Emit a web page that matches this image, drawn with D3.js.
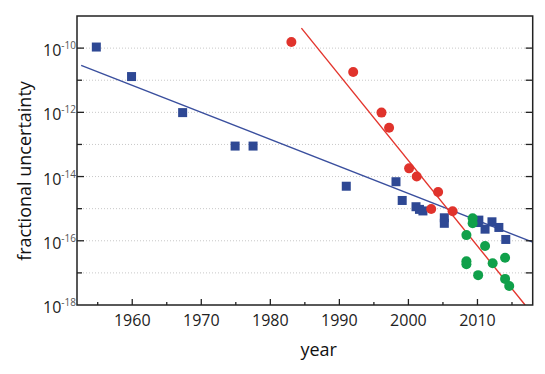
<!DOCTYPE html>
<html lang="en">
<head>
<meta charset="utf-8">
<title>fractional uncertainty</title>
<style>
  body { margin: 0; background: #fff; }
  text { font-family: "Open Sans", sans-serif; }
</style>
</head>
<body>
<svg width="545" height="374"></svg>
<script src="https://d3js.org/d3.v7.min.js"></script>
<script>

// data
var blueYears  = [1954.8, 1959.9, 1967.3, 1974.9, 1977.5, 1991.0, 1998.2, 1999.1, 2001.1, 2001.6, 2002.1, 2005.2, 2005.2, 2010.1, 2010.2, 2011.1, 2012.1, 2013.1, 2014.1];
var blueValues = [1.08e-10, 1.3e-11, 9.8e-13, 8.9e-14, 8.9e-14, 5.0e-15, 6.9e-15, 1.8e-15, 1.15e-15, 9.5e-16, 8.5e-16, 5.2e-16, 3.5e-16, 3.7e-16, 4.4e-16, 2.3e-16, 3.9e-16, 2.6e-16, 1.1e-16];

var redYears  = [1983.05, 1992.0, 1996.1, 1997.2, 2000.1, 2001.2, 2004.3, 2003.3, 2006.4];
var redValues = [1.55e-10, 1.8e-11, 9.8e-13, 3.3e-13, 1.8e-14, 1.0e-14, 3.3e-15, 9.8e-16, 8.3e-16];

var greenYears  = [2009.3, 2009.3, 2008.4, 2011.1, 2008.4, 2008.4, 2012.2, 2014.0, 2010.1, 2014.0, 2014.6];
var greenValues = [5.0e-16, 3.5e-16, 1.5e-16, 6.9e-17, 2.3e-17, 1.85e-17, 2.0e-17, 2.95e-17, 8.5e-18, 6.5e-18, 3.9e-18];

// fitted trend lines (end points)
var blueFitYears  = [1952.6, 2018];
var blueFitValues = [2.88e-11, 9.1e-17];
var redFitYears   = [1984.5, 2016.9];
var redFitValues  = [4.2e-10, 1e-18];

var xTicks = [1960, 1970, 1980, 1990, 2000, 2010];
var xMinorTicks = [1955, 1965, 1975, 1985, 1995, 2005, 2015];
var yMajorExp = [-10, -12, -14, -16, -18];
var yAllExp = [-10, -11, -12, -13, -14, -15, -16, -17];

var svg = d3.select("svg"),
    x0 = 77, x1 = 532.7, y0 = 16, y1 = 305;

var x = d3.scaleLinear().domain([1952, 2018]).range([x0, x1]);
var y = d3.scaleLog().domain([1e-18, 1e-9]).range([y1, y0]);

// dotted grid
svg.append("g").selectAll("line")
    .data(yAllExp)
    .enter().append("line")
    .attr("x1", x0).attr("x2", x1)
    .attr("y1", function(d) { return y(Math.pow(10, d)); })
    .attr("y2", function(d) { return y(Math.pow(10, d)); })
    .attr("stroke", "#c8c8c8")
    .attr("stroke-width", 1)
    .attr("stroke-dasharray", "1,2");

// clip for trend lines
svg.append("clipPath").attr("id", "clip")
    .append("rect").attr("x", x0).attr("y", y0)
    .attr("width", x1 - x0).attr("height", y1 - y0);

var line = d3.line()
    .x(function(d) { return x(d[0]); })
    .y(function(d) { return y(d[1]); });

svg.append("path")
    .datum(d3.zip(blueFitYears, blueFitValues))
    .attr("d", line)
    .attr("clip-path", "url(#clip)")
    .attr("fill", "none")
    .attr("stroke", "#3a4f9e")
    .attr("stroke-width", 1.4);

svg.append("path")
    .datum(d3.zip(redFitYears, redFitValues))
    .attr("d", line)
    .attr("clip-path", "url(#clip)")
    .attr("fill", "none")
    .attr("stroke", "#e3352d")
    .attr("stroke-width", 1.4);

// blue squares
var sq = 9;
svg.append("g").selectAll("rect")
    .data(d3.zip(blueYears, blueValues))
    .enter().append("rect")
    .attr("x", function(d) { return x(d[0]) - sq / 2; })
    .attr("y", function(d) { return y(d[1]) - sq / 2; })
    .attr("width", sq).attr("height", sq)
    .attr("fill", "#2e4894");

// red circles
svg.append("g").selectAll("circle")
    .data(d3.zip(redYears, redValues))
    .enter().append("circle")
    .attr("cx", function(d) { return x(d[0]); })
    .attr("cy", function(d) { return y(d[1]); })
    .attr("r", 5)
    .attr("fill", "#e0332c");

// green circles
svg.append("g").selectAll("circle")
    .data(d3.zip(greenYears, greenValues))
    .enter().append("circle")
    .attr("cx", function(d) { return x(d[0]); })
    .attr("cy", function(d) { return y(d[1]); })
    .attr("r", 5)
    .attr("fill", "#10a04a");

// ticks
var ticks = svg.append("g").attr("stroke", "#222").attr("stroke-width", 1.3);
xTicks.forEach(function(t) {
    ticks.append("line").attr("x1", x(t)).attr("x2", x(t)).attr("y1", y1).attr("y2", y1 - 6);
});
xMinorTicks.forEach(function(t) {
    ticks.append("line").attr("x1", x(t)).attr("x2", x(t)).attr("y1", y1).attr("y2", y1 - 3);
});
yAllExp.forEach(function(e) {
    var yy = y(Math.pow(10, e));
    var len = (e % 2 === 0) ? 7 : 5;
    ticks.append("line").attr("x1", x0).attr("x2", x0 + len).attr("y1", yy).attr("y2", yy);
    ticks.append("line").attr("x1", x1).attr("x2", x1 - 7).attr("y1", yy).attr("y2", yy);
});

// frame
svg.append("rect")
    .attr("x", x0).attr("y", y0)
    .attr("width", x1 - x0).attr("height", y1 - y0)
    .attr("fill", "none")
    .attr("stroke", "#222")
    .attr("stroke-width", 1.5);

// x tick labels
svg.append("g").selectAll("text")
    .data(xTicks)
    .enter().append("text")
    .attr("x", function(d) { return x(d); })
    .attr("y", 326)
    .attr("text-anchor", "middle")
    .attr("font-size", 16)
    .attr("fill", "#222")
    .text(function(d) { return d; });

// y tick labels 10^n
var ylab = svg.append("g").selectAll("text")
    .data(yMajorExp)
    .enter().append("text")
    .attr("x", 43)
    .attr("y", function(d) { return y(Math.pow(10, d)) + 8; })
    .attr("font-size", 16)
    .attr("fill", "#222");
ylab.append("tspan").text("10");
ylab.append("tspan")
    .attr("dy", -7)
    .attr("font-size", 10)
    .attr("fill", "#555")
    .text(function(d) { return d; });

// axis titles
svg.append("text")
    .attr("x", x(1987)).attr("y", 356)
    .attr("text-anchor", "middle")
    .attr("font-size", 18)
    .attr("fill", "#111")
    .text("year");

svg.append("text")
    .attr("transform", "translate(31,171) rotate(-90)")
    .attr("text-anchor", "middle")
    .attr("font-size", 18)
    .attr("fill", "#111")
    .text("fractional uncertainty");

</script>
</body>
</html>
